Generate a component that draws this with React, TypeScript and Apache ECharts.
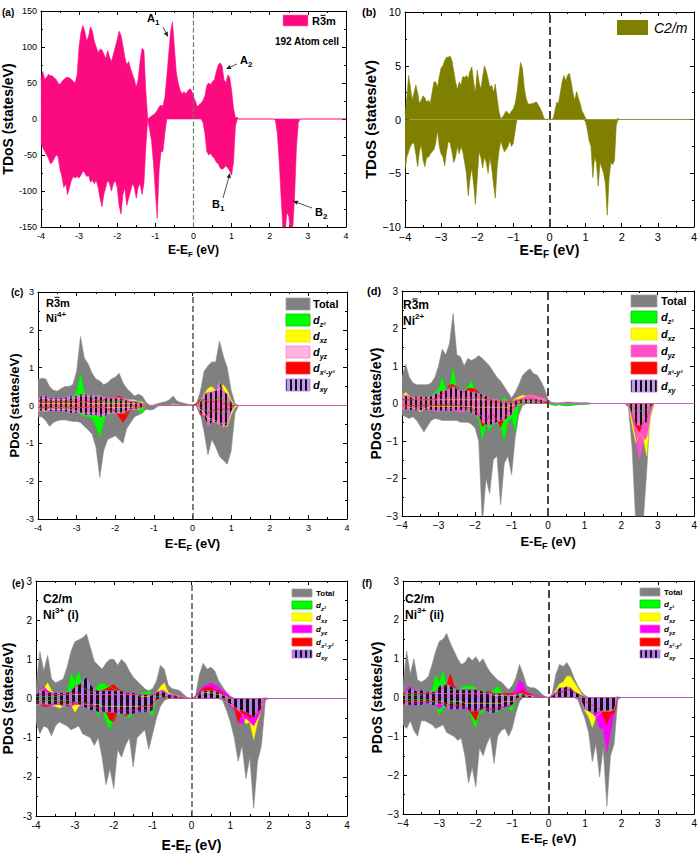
import React, { useEffect, useRef } from 'react';
import * as echarts from 'echarts';

const FONT = "'Liberation Sans', Arial, Helvetica, sans-serif";

// ---------------- DATA ----------------
const E_MIN = -4;
const E_MAX = 4;
const STEP_FINE = 0.05;
const STEP = 0.1;

// (a) R-3m, 192 atom cell, TDoS (0.05 eV grid)
const aUpStart = -4;
const aUp = [
  55, 66, 55, 58, 62, 60, 60, 57, 55, 50,
  48, 52, 55, 57, 58, 57, 55, 52, 50, 62,
  100, 120, 130, 122, 108, 115, 128, 122, 108, 100,
  92, 97, 96, 90, 84, 95, 86, 80, 90, 100,
  110, 122, 116, 102, 86, 75, 80, 70, 62, 55,
  44, 55, 80, 98, 96, 40, 0, 2, 4, 6,
  8, 12, 17, 19, 18, 30, 58, 90, 121, 135,
  100, 65, 50, 40, 35, 38, 35, 39, 42, 40,
  31, 25, 17, 20, 22, 26, 32, 47, 50, 48,
  52, 55, 66, 75, 78, 74, 55, 50, 61, 58,
  40, 15, 2, 2, 0,
];
const aDn1Start = -4;
const aDn1 = [
  -32, -40, -45, -50, -55, -62, -60, -55, -50, -52,
  -70, -80, -95, -90, -105, -95, -85, -80, -82, -80,
  -82, -78, -72, -75, -80, -78, -88, -85, -90, -85,
  -95, -110, -122, -105, -95, -85, -90, -100, -90, -85,
  -95, -120, -132, -105, -95, -120, -110, -100, -90, -95,
  -110, -95, -90, -105, -90, -40, 0, -15, -30, -60,
  -100, -138, -70, -45, -45, -20, 0,
];
const aDn2Start = 0.2;
const aDn2 = [0, -5, -20, -45, -50, -48, -52, -55, -60, -62, -68, -70, -68, -65, -68, -72, -78, -60, -10, 0];
const aDn3Start = 2.1;
const aDn3 = [0, -2, -20, -60, -110, -155, -160, -130, -135, -160, -155, -110, -40, -5, 0];

// (b) C2/m TDoS (0.05 eV grid)
const bUp1Start = -4;
const bUp1 = [
  0.5, 2.0, 4.1, 3.0, 1.8, 2.5, 3.2, 2.5, 1.5, 1.8,
  2.2, 2.0, 1.6, 1.8, 1.5, 2.5, 3.5, 3.5, 3.0, 4.0,
  4.8, 5.0, 5.5, 5.8, 5.8, 5.9, 5.5, 4.5, 3.5, 2.8,
  3.5, 3.2, 4.0, 3.9, 4.1, 3.8, 4.5, 4.9, 3.5, 2.5,
  4.6, 3.5, 2.8, 4.0, 5.0, 4.5, 3.8, 3.0, 3.2, 2.5,
  3.3, 2.0, 0.8, 0.1, 0.2, 0.5, 0.8, 0.6, 0.5, 0.8,
  1.0, 1.5, 2.5, 4.0, 5.3, 4.8, 3.0, 2.0, 1.5, 1.4,
  1.5, 1.5, 1.6, 1.6, 1.3, 1.0, 0.6, 0.1, 0,
];
const bUp2Start = 0.05;
const bUp2 = [0, 0.1, 0.8, 1.6, 1.5, 2.5, 3.5, 4.1, 3.6, 4.1, 4.3, 3.5, 2.5, 1.8, 2.6, 2.0, 1.5, 0.8, 0.5, 0.1, 0];
const bUp3Start = 1.85;
const bUp3 = [0, 0.1, 0];
const bDn1Start = -4;
const bDn1 = [
  -4.7, -3.5, -3.0, -2.5, -2.2, -2.2, -3.2, -4.4, -3.0, -2.3,
  -3.8, -4.4, -3.5, -3.5, -3.2, -3.0, -2.8, -2.2, -1.0, -2.5,
  -3.2, -3.5, -4.3, -3.0, -2.0, -2.2, -3.0, -4.0, -3.5, -2.5,
  -3.2, -2.5, -3.0, -4.0, -5.0, -7.1, -5.5, -4.5, -6.0, -7.9,
  -5.5, -3.0, -3.5, -4.5, -3.5, -4.0, -5.0, -3.5, -4.5, -6.0,
  -7.3, -4.5, -3.0, -2.0, -2.5, -3.0, -2.8, -2.5, -2.0, -2.5,
  -2.2, -1.0, 0,
];
const bDn2Start = 0.95;
const bDn2 = [0, -0.2, -1.0, -2.0, -2.5, -5.4, -3.5, -4.0, -6.2, -4.0, -4.5, -5.0, -6.0, -8.9, -5.5, -4.0, -4.2, -3.8, -0.5, 0];

// PDoS panels: 0.1 eV grid from -4. Order: Total, dz2, dxz, dyz, dx2-y2, dxy
// (c) R-3m Ni4+
const cTotUp = [0.68, 0.72, 0.7, 0.5, 0.4, 0.38, 0.45, 0.5, 0.5, 0.55, 0.9, 1.82, 1.25, 1.1, 0.85, 0.7, 0.65, 0.55, 0.6, 0.7, 0.75, 0.85, 0.6, 0.45, 0.35, 0.25, 0.3, 0.25, 0.08, 0, 0.02, 0.05, 0.08, 0.1, 0.15, 0.25, 0.12, 0.08, 0.05, 0.03, 0.02, 0.05, 0.35, 0.9, 1.05, 1.15, 1.15, 1.7, 1.3, 1.0, 0.4, 0.05, 0];
const cTotDn = [-0.3, -0.3, -0.4, -0.55, -0.45, -0.4, -0.38, -0.38, -0.4, -0.42, -0.42, -0.45, -0.55, -0.65, -0.75, -1.1, -1.9, -1.2, -0.9, -0.85, -0.8, -0.9, -1.0, -0.6, -0.45, -0.3, -0.25, -0.2, -0.1, -0.12, -0.1, -0.02, 0, 0, 0, 0, 0, 0, 0, 0, 0, 0, -0.2, -0.7, -1.3, -0.9, -1.1, -1.35, -1.45, -1.55, -1.2, -0.2, 0];
const cZ2Up = [0.1, 0.1, 0.1, 0.1, 0.1, 0.1, 0.1, 0.1, 0.12, 0.15, 0.4, 0.85, 0.35, 0.25, 0.2, 0.15, 0.12, 0.1, 0.1, 0.1, 0.1, 0.12, 0.15, 0.1, 0.1, 0.08, 0.15, 0.12, 0.02, 0, 0, 0, 0, 0.01, 0.02, 0.05, 0.02, 0.01, 0, 0, 0, 0, 0.05, 0.1, 0.15, 0.15, 0.15, 0.2, 0.15, 0.1, 0.05, 0, 0];
const cZ2Dn = [-0.05, -0.05, -0.05, -0.05, -0.05, -0.05, -0.05, -0.08, -0.1, -0.1, -0.15, -0.25, -0.3, -0.3, -0.35, -0.55, -0.85, -0.45, -0.2, -0.15, -0.1, -0.15, -0.2, -0.25, -0.1, -0.05, -0.15, -0.2, 0, 0, 0, 0, 0, 0, 0, 0, 0, 0, 0, 0, 0, 0, -0.05, -0.1, -0.15, -0.15, -0.15, -0.2, -0.2, -0.15, -0.05, 0, 0];
const cXzUp = [0.05, 0.05, 0.05, 0.05, 0.05, 0.05, 0.05, 0.05, 0.05, 0.05, 0.05, 0.1, 0.1, 0.05, 0.05, 0.05, 0.05, 0.05, 0.05, 0.05, 0.05, 0.05, 0.05, 0.05, 0.05, 0.05, 0.05, 0.05, 0, 0, 0, 0, 0, 0, 0, 0.05, 0.02, 0, 0, 0, 0, 0, 0.1, 0.3, 0.45, 0.5, 0.4, 0.45, 0.55, 0.4, 0.15, 0, 0];
const cXzDn = [-0.05, -0.1, -0.15, -0.1, -0.05, -0.05, -0.05, -0.05, -0.05, -0.05, -0.05, -0.05, -0.05, -0.05, -0.05, -0.05, -0.05, -0.05, -0.05, -0.05, -0.05, -0.05, -0.05, -0.05, -0.05, -0.05, -0.05, -0.05, 0, 0, 0, 0, 0, 0, 0, 0, 0, 0, 0, 0, 0, 0, -0.1, -0.2, -0.35, -0.4, -0.45, -0.5, -0.55, -0.55, -0.25, -0.05, 0];
const cYzUp = [0.15, 0.2, 0.2, 0.15, 0.15, 0.15, 0.15, 0.15, 0.2, 0.2, 0.2, 0.25, 0.25, 0.25, 0.25, 0.25, 0.25, 0.2, 0.2, 0.2, 0.2, 0.2, 0.2, 0.15, 0.15, 0.15, 0.1, 0.1, 0, 0, 0, 0, 0, 0, 0, 0.03, 0.02, 0, 0, 0, 0, 0, 0.1, 0.25, 0.35, 0.4, 0.4, 0.45, 0.4, 0.3, 0.1, 0, 0];
const cYzDn = [-0.15, -0.15, -0.15, -0.1, -0.1, -0.1, -0.1, -0.1, -0.1, -0.15, -0.15, -0.2, -0.2, -0.2, -0.2, -0.2, -0.25, -0.25, -0.2, -0.2, -0.2, -0.2, -0.2, -0.15, -0.1, -0.1, -0.1, -0.05, 0, 0, 0, 0, 0, 0, 0, 0, 0, 0, 0, 0, 0, 0, -0.1, -0.2, -0.35, -0.35, -0.4, -0.45, -0.5, -0.45, -0.2, 0, 0];
const cX2Up = [0.15, 0.1, 0.1, 0.1, 0.1, 0.1, 0.1, 0.1, 0.1, 0.1, 0.1, 0.1, 0.1, 0.1, 0.1, 0.1, 0.1, 0.15, 0.2, 0.2, 0.2, 0.25, 0.2, 0.1, 0.1, 0.1, 0.05, 0.05, 0, 0, 0, 0, 0, 0, 0, 0, 0, 0, 0, 0, 0, 0.05, 0.15, 0.15, 0.1, 0.1, 0.1, 0.1, 0.05, 0.05, 0, 0, 0];
const cX2Dn = [-0.05, -0.05, -0.05, -0.05, -0.05, -0.05, -0.05, -0.05, -0.05, -0.05, -0.05, -0.05, -0.05, -0.05, -0.05, -0.05, -0.05, -0.05, -0.1, -0.1, -0.15, -0.3, -0.45, -0.3, -0.1, -0.05, -0.05, -0.05, 0, 0, 0, 0, 0, 0, 0, 0, 0, 0, 0, 0, 0, 0, -0.25, -0.3, -0.2, -0.15, -0.1, -0.1, -0.1, -0.1, -0.05, 0, 0];
const cXyUp = [0.2, 0.25, 0.25, 0.2, 0.2, 0.2, 0.2, 0.2, 0.25, 0.25, 0.25, 0.3, 0.3, 0.3, 0.28, 0.25, 0.25, 0.22, 0.22, 0.2, 0.2, 0.2, 0.15, 0.15, 0.1, 0.1, 0.1, 0.05, 0.02, 0, 0, 0, 0, 0, 0.02, 0.03, 0.02, 0.01, 0, 0, 0, 0, 0.1, 0.3, 0.35, 0.35, 0.4, 0.65, 0.4, 0.3, 0.1, 0, 0];
const cXyDn = [-0.15, -0.15, -0.15, -0.15, -0.15, -0.15, -0.15, -0.15, -0.2, -0.2, -0.2, -0.2, -0.25, -0.25, -0.25, -0.25, -0.3, -0.3, -0.25, -0.2, -0.2, -0.2, -0.2, -0.15, -0.1, -0.1, -0.1, -0.05, 0, 0, 0, 0, 0, 0, 0, 0, 0, 0, 0, 0, 0, 0, -0.2, -0.3, -0.55, -0.45, -0.45, -0.5, -0.6, -0.5, -0.15, 0, 0];

// (d) R-3m Ni2+ (main range from -4, extra range from 2.1)
const dTotUp = [0.7, 1.05, 0.7, 0.55, 0.5, 0.5, 0.5, 0.5, 0.55, 0.7, 1.0, 1.45, 1.3, 1.6, 2.4, 1.3, 1.25, 1.0, 1.2, 1.15, 1.2, 1.28, 1.2, 1.1, 1.0, 0.85, 0.7, 0.6, 0.45, 0.3, 0.15, 0.3, 0.5, 0.75, 0.85, 0.93, 0.8, 0.76, 0.6, 0.4, 0.1, 0.03, 0.02, 0.02, 0.03, 0.04, 0.04, 0.03, 0.03, 0.02, 0.03, 0.02, 0];
const dTotDn = [-0.3, -0.35, -0.4, -0.35, -0.45, -0.6, -0.76, -0.6, -0.45, -0.4, -0.42, -0.45, -0.45, -0.45, -0.45, -0.45, -0.5, -0.5, -0.5, -0.55, -0.65, -1.0, -3.2, -2.0, -2.4, -1.5, -1.4, -2.7, -1.6, -1.4, -1.9, -0.9, -0.3, -0.05, 0, 0, 0, 0, 0, 0, 0, -0.03, -0.05, -0.03, -0.05, -0.06, -0.05, -0.04, -0.03, -0.03, -0.02, -0.02, 0];
const dZ2Up = [0.1, 0.1, 0.1, 0.1, 0.1, 0.1, 0.1, 0.15, 0.2, 0.3, 0.4, 0.7, 0.4, 0.4, 0.98, 0.4, 0.35, 0.35, 0.45, 0.62, 0.3, 0.2, 0.15, 0.1, 0.1, 0.1, 0.1, 0.05, 0.18, 0.05, 0.02, 0.05, 0.05, 0.05, 0.05, 0.05, 0.05, 0.05, 0.05, 0.05, 0.02, 0, 0, 0, 0, 0, 0, 0, 0, 0, 0, 0, 0];
const dZ2Dn = [-0.05, -0.05, -0.05, -0.05, -0.05, -0.05, -0.05, -0.05, -0.05, -0.05, -0.05, -0.05, -0.05, -0.05, -0.05, -0.05, -0.05, -0.1, -0.15, -0.2, -0.3, -0.45, -0.98, -0.55, -0.75, -0.5, -0.55, -0.6, -1.0, -0.5, -0.4, -0.75, -0.1, -0.02, 0, 0, 0, 0, 0, 0, 0, -0.03, -0.05, -0.03, -0.05, -0.06, -0.05, -0.04, -0.03, -0.02, -0.02, -0.01, 0];
const dXzUp = [0.2, 0.3, 0.2, 0.15, 0.12, 0.1, 0.1, 0.1, 0.1, 0.1, 0.1, 0.1, 0.1, 0.1, 0.1, 0.1, 0.1, 0.1, 0.1, 0.1, 0.1, 0.1, 0.1, 0.1, 0.1, 0.1, 0.1, 0.05, 0.05, 0.05, 0.05, 0.13, 0.18, 0.22, 0.2, 0.22, 0.2, 0.15, 0.12, 0.1, 0.05, 0, 0, 0, 0, 0, 0, 0, 0, 0, 0, 0, 0];
const dXzDn = [-0.05, -0.05, -0.1, -0.12, -0.15, -0.22, -0.15, -0.1, -0.08, -0.08, -0.08, -0.08, -0.08, -0.08, -0.08, -0.08, -0.08, -0.08, -0.08, -0.08, -0.1, -0.1, -0.1, -0.1, -0.1, -0.1, -0.1, -0.1, -0.1, -0.1, -0.05, -0.05, -0.02, 0, 0, 0, 0, 0, 0, 0, 0, 0, 0, 0, 0, 0, 0, 0, 0, 0, 0, 0, 0];
const dYzUp = [0.22, 0.22, 0.2, 0.15, 0.12, 0.1, 0.1, 0.1, 0.1, 0.1, 0.1, 0.12, 0.15, 0.15, 0.15, 0.15, 0.15, 0.15, 0.15, 0.15, 0.15, 0.15, 0.15, 0.1, 0.1, 0.1, 0.1, 0.05, 0.05, 0.05, 0.05, 0.1, 0.12, 0.15, 0.2, 0.22, 0.22, 0.2, 0.18, 0.15, 0.05, 0, 0, 0, 0, 0, 0, 0, 0, 0, 0, 0, 0];
const dYzDn = [-0.1, -0.1, -0.1, -0.1, -0.1, -0.1, -0.12, -0.15, -0.18, -0.2, -0.22, -0.2, -0.15, -0.12, -0.15, -0.2, -0.25, -0.2, -0.15, -0.12, -0.2, -0.3, -0.35, -0.4, -0.45, -0.45, -0.4, -0.4, -0.35, -0.3, -0.25, -0.1, -0.02, 0, 0, 0, 0, 0, 0, 0, 0, 0, 0, 0, 0, 0, 0, 0, 0, 0, 0, 0, 0];
const dX2Up = [0.1, 0.1, 0.1, 0.1, 0.1, 0.1, 0.1, 0.1, 0.1, 0.1, 0.2, 0.25, 0.3, 0.5, 0.5, 0.45, 0.35, 0.3, 0.4, 0.4, 0.38, 0.3, 0.2, 0.1, 0.1, 0.05, 0.05, 0.05, 0.05, 0.05, 0.05, 0.05, 0.08, 0.1, 0.12, 0.12, 0.1, 0.08, 0.05, 0.03, 0.02, 0, 0, 0, 0, 0, 0, 0, 0, 0, 0, 0, 0];
const dX2Dn = [-0.05, -0.05, -0.05, -0.05, -0.05, -0.05, -0.05, -0.05, -0.05, -0.05, -0.05, -0.05, -0.05, -0.05, -0.05, -0.05, -0.05, -0.1, -0.1, -0.15, -0.2, -0.3, -0.62, -0.5, -0.3, -0.3, -0.45, -0.63, -0.4, -0.2, -0.15, -0.05, 0, 0, 0, 0, 0, 0, 0, 0, 0, 0, 0, 0, 0, 0, 0, 0, 0, 0, 0, 0, 0];
const dXyUp = [0.18, 0.2, 0.18, 0.18, 0.18, 0.18, 0.18, 0.18, 0.2, 0.25, 0.3, 0.35, 0.35, 0.4, 0.45, 0.4, 0.35, 0.35, 0.35, 0.3, 0.3, 0.27, 0.25, 0.2, 0.15, 0.12, 0.1, 0.09, 0.05, 0.02, 0.02, 0.08, 0.1, 0.12, 0.12, 0.12, 0.12, 0.12, 0.1, 0.08, 0.03, 0.01, 0, 0, 0, 0, 0, 0, 0, 0, 0, 0, 0];
const dXyDn = [-0.15, -0.15, -0.18, -0.18, -0.18, -0.18, -0.18, -0.18, -0.18, -0.18, -0.2, -0.2, -0.2, -0.2, -0.2, -0.18, -0.18, -0.18, -0.2, -0.25, -0.3, -0.36, -0.5, -0.58, -0.58, -0.55, -0.5, -0.45, -0.45, -0.35, -0.3, -0.1, -0.02, 0, 0, 0, 0, 0, 0, 0, 0, 0, 0, 0, 0, 0, 0, 0, 0, 0, 0, 0, 0];
const dExtraStart = 2.1;
const dTotDnB = [0, -0.1, -1.2, -3.2, -3.2, -3.2, -1.8, -0.1, 0];
const dZ2DnB = [0, 0, -0.1, -0.2, -0.2, -0.2, -0.15, -0.05, 0];
const dXzDnB = [0, 0, -0.6, -1.05, -0.8, -0.9, -1.4, -0.4, 0];
const dYzDnB = [0, 0, -0.4, -0.9, -1.5, -1.0, -0.9, -0.3, 0];
const dX2DnB = [0, 0, -0.3, -0.6, -0.75, -0.5, -0.4, -0.1, 0];
const dXyDnB = [0, 0, -0.3, -0.55, -0.6, -0.55, -0.5, -0.1, 0];

// (e) C2/m Ni3+ (i)
const eTotUp = [0.3, 1.2, 0.7, 1.1, 0.5, 0.4, 0.45, 0.5, 0.8, 1.2, 1.45, 1.5, 1.55, 1.65, 1.3, 0.95, 0.85, 0.75, 0.9, 1.0, 1.0, 0.85, 1.0, 0.9, 0.7, 0.55, 0.45, 0.35, 0.25, 0.2, 0.25, 0.45, 0.85, 0.75, 0.35, 0.25, 0.23, 0.2, 0.1, 0.02, 0, 0.05, 0.6, 0.9, 0.75, 0.8, 0.7, 0.45, 0.3, 0.15, 0.05, 0, 0, 0, 0, 0, 0, 0, 0, 0.02, 0];
const eTotDn = [-0.6, -0.9, -0.7, -0.75, -0.95, -0.7, -0.6, -0.65, -0.7, -0.8, -0.75, -0.7, -0.9, -0.95, -1.0, -1.2, -1.0, -1.5, -2.2, -1.8, -2.3, -1.3, -1.5, -1.2, -1.0, -1.75, -1.0, -0.9, -0.8, -1.3, -0.9, -0.5, -0.2, -0.05, 0, 0, 0, 0, 0, 0, 0, 0, 0, 0, 0, 0, 0, 0, -0.05, -0.3, -0.6, -1.0, -1.6, -1.2, -2.05, -1.5, -2.8, -1.6, -1.2, -0.05, 0];
const eZ2Up = [0.05, 0.05, 0.05, 0.05, 0.05, 0.05, 0.05, 0.1, 0.15, 0.65, 0.45, 0.7, 0.3, 0.2, 0.15, 0.2, 0.35, 0.4, 0.35, 0.3, 0.25, 0.2, 0.2, 0.15, 0.1, 0.1, 0.1, 0.15, 0.15, 0.2, 0.1, 0.05, 0.05, 0.02, 0, 0, 0, 0, 0, 0, 0, 0, 0, 0, 0, 0, 0, 0, 0, 0, 0, 0, 0, 0, 0, 0, 0, 0, 0, 0, 0];
const eZ2Dn = [-0.05, -0.05, -0.05, -0.05, -0.05, -0.05, -0.05, -0.05, -0.05, -0.05, -0.1, -0.1, -0.1, -0.15, -0.2, -0.2, -0.45, -0.3, -0.6, -0.8, -0.5, -0.35, -0.4, -0.45, -0.5, -0.4, -0.35, -0.3, -0.3, -0.35, -0.45, -0.1, 0, 0, 0, 0, 0, 0, 0, 0, 0, 0, 0, 0, 0, 0, 0, 0, 0, 0, 0, 0, 0, 0, 0, 0, 0, 0, 0, 0, 0];
const eXzUp = [0.1, 0.2, 0.25, 0.4, 0.2, 0.1, 0.1, 0.1, 0.1, 0.1, 0.1, 0.1, 0.1, 0.1, 0.1, 0.1, 0.1, 0.1, 0.1, 0.1, 0.1, 0.1, 0.1, 0.1, 0.1, 0.1, 0.1, 0.05, 0.05, 0.05, 0.1, 0.15, 0.3, 0.4, 0.15, 0.1, 0.08, 0.05, 0.03, 0.01, 0, 0.02, 0.1, 0.15, 0.15, 0.15, 0.12, 0.1, 0.08, 0.05, 0, 0, 0, 0, 0, 0, 0, 0, 0, 0, 0];
const eXzDn = [-0.15, -0.15, -0.1, -0.15, -0.2, -0.2, -0.25, -0.2, -0.15, -0.15, -0.35, -0.2, -0.15, -0.15, -0.15, -0.15, -0.15, -0.2, -0.2, -0.2, -0.2, -0.2, -0.2, -0.2, -0.2, -0.2, -0.2, -0.2, -0.2, -0.2, -0.2, -0.05, 0, 0, 0, 0, 0, 0, 0, 0, 0, 0, 0, 0, 0, 0, 0, 0, 0, -0.1, -0.15, -0.2, -0.3, -0.4, -0.65, -0.6, -1.05, -0.6, -0.3, 0, 0];
const eYzUp = [0.1, 0.2, 0.3, 0.2, 0.15, 0.1, 0.1, 0.1, 0.1, 0.1, 0.15, 0.15, 0.1, 0.1, 0.1, 0.1, 0.1, 0.1, 0.1, 0.1, 0.1, 0.1, 0.1, 0.1, 0.1, 0.1, 0.1, 0.1, 0.1, 0.1, 0.1, 0.15, 0.2, 0.2, 0.1, 0.08, 0.05, 0.03, 0.02, 0.01, 0, 0.05, 0.2, 0.3, 0.35, 0.4, 0.35, 0.3, 0.2, 0.15, 0.05, 0, 0, 0, 0, 0, 0, 0, 0, 0, 0];
const eYzDn = [-0.1, -0.1, -0.15, -0.2, -0.2, -0.15, -0.15, -0.15, -0.2, -0.2, -0.15, -0.15, -0.15, -0.15, -0.2, -0.2, -0.25, -0.25, -0.3, -0.3, -0.3, -0.3, -0.3, -0.3, -0.3, -0.3, -0.3, -0.3, -0.3, -0.3, -0.25, -0.05, 0, 0, 0, 0, 0, 0, 0, 0, 0, 0, 0, 0, 0, 0, 0, 0, 0, -0.1, -0.2, -0.3, -0.6, -0.65, -0.5, -0.6, -0.7, -0.5, -0.3, 0, 0];
const eX2Up = [0.1, 0.1, 0.1, 0.1, 0.1, 0.1, 0.1, 0.1, 0.1, 0.15, 0.3, 0.36, 0.3, 0.25, 0.2, 0.2, 0.2, 0.2, 0.25, 0.3, 0.36, 0.25, 0.2, 0.15, 0.15, 0.1, 0.1, 0.1, 0.1, 0.1, 0.1, 0.1, 0.1, 0.05, 0.05, 0.05, 0.02, 0.02, 0.01, 0, 0, 0.05, 0.15, 0.25, 0.28, 0.3, 0.22, 0.2, 0.12, 0.05, 0, 0, 0, 0, 0, 0, 0, 0, 0, 0, 0];
const eX2Dn = [-0.1, -0.15, -0.2, -0.2, -0.15, -0.1, -0.1, -0.1, -0.1, -0.1, -0.1, -0.1, -0.1, -0.1, -0.15, -0.2, -0.25, -0.3, -0.35, -0.55, -0.6, -0.3, -0.35, -0.45, -0.4, -0.3, -0.25, -0.2, -0.2, -0.2, -0.15, 0, 0, 0, 0, 0, 0, 0, 0, 0, 0, 0, 0, 0, 0, 0, 0, 0, 0, -0.05, -0.1, -0.2, -0.6, -0.35, -0.4, -0.5, -0.45, -0.3, -0.1, 0, 0];
const eXyUp = [0.1, 0.2, 0.2, 0.15, 0.15, 0.15, 0.15, 0.15, 0.15, 0.2, 0.3, 0.35, 0.45, 0.55, 0.35, 0.25, 0.2, 0.2, 0.2, 0.2, 0.2, 0.2, 0.2, 0.15, 0.15, 0.15, 0.1, 0.1, 0.1, 0.1, 0.1, 0.15, 0.2, 0.15, 0.1, 0.1, 0.08, 0.05, 0.03, 0.01, 0, 0.02, 0.15, 0.2, 0.2, 0.2, 0.2, 0.15, 0.1, 0.05, 0, 0, 0, 0, 0, 0, 0, 0, 0, 0, 0];
const eXyDn = [-0.15, -0.15, -0.15, -0.15, -0.15, -0.15, -0.15, -0.2, -0.2, -0.15, -0.1, -0.15, -0.2, -0.25, -0.3, -0.3, -0.35, -0.35, -0.35, -0.35, -0.35, -0.4, -0.4, -0.4, -0.4, -0.4, -0.35, -0.35, -0.35, -0.35, -0.3, -0.05, 0, 0, 0, 0, 0, 0, 0, 0, 0, 0, 0, 0, 0, 0, 0, 0, 0, -0.1, -0.15, -0.25, -0.3, -0.3, -0.35, -0.4, -0.5, -0.35, -0.25, 0, 0];

// (f) C2/m Ni3+ (ii)
const fTotUp = [0.3, 1.2, 0.6, 1.0, 0.45, 0.4, 0.45, 0.55, 0.85, 1.2, 1.45, 1.5, 1.65, 1.4, 1.2, 1.0, 0.85, 0.9, 1.05, 0.95, 1.05, 0.9, 1.0, 0.8, 0.65, 0.55, 0.45, 0.4, 0.3, 0.2, 0.3, 0.5, 0.85, 0.6, 0.3, 0.25, 0.25, 0.2, 0.1, 0.02, 0, 0.1, 0.6, 0.85, 0.8, 0.9, 0.75, 0.5, 0.3, 0.15, 0.05, 0, 0, 0, 0, 0, 0, 0, 0, 0.02, 0];
const fTotDn = [-0.7, -0.8, -0.6, -0.85, -1.0, -0.6, -0.6, -0.65, -0.7, -0.8, -0.75, -0.7, -0.9, -0.95, -1.0, -1.1, -1.05, -1.5, -2.2, -1.8, -2.3, -1.3, -1.5, -1.2, -1.0, -1.7, -1.0, -0.85, -0.8, -1.0, -0.8, -0.4, -0.1, 0, 0, 0, 0, 0, 0, 0, 0, 0, 0, 0, 0, 0, 0, 0, -0.05, -0.3, -0.55, -0.9, -1.65, -1.2, -2.05, -1.3, -2.8, -1.5, -1.2, -0.05, 0];
const fZ2Up = [0.05, 0.05, 0.05, 0.05, 0.05, 0.05, 0.1, 0.15, 0.2, 0.6, 0.4, 0.7, 0.3, 0.2, 0.2, 0.2, 0.25, 0.3, 0.3, 0.3, 0.25, 0.2, 0.2, 0.15, 0.15, 0.2, 0.3, 0.15, 0.1, 0.05, 0.05, 0.05, 0.05, 0.05, 0.02, 0, 0, 0, 0, 0, 0, 0, 0, 0, 0, 0, 0, 0, 0, 0, 0, 0, 0, 0, 0, 0, 0, 0, 0, 0, 0];
const fZ2Dn = [-0.05, -0.05, -0.05, -0.05, -0.05, -0.05, -0.05, -0.05, -0.1, -0.2, -0.45, -0.3, -0.2, -0.15, -0.15, -0.2, -0.2, -0.25, -0.3, -0.6, -0.8, -0.4, -0.4, -0.3, -0.3, -0.35, -0.4, -0.3, -0.25, -0.3, -0.35, -0.1, 0, 0, 0, 0, 0, 0, 0, 0, 0, 0, 0, 0, 0, 0, 0, 0, 0, 0, 0, 0, 0, 0, 0, 0, 0, 0, 0, 0, 0];
const fXzUp = [0.05, 0.1, 0.1, 0.1, 0.1, 0.1, 0.1, 0.1, 0.1, 0.1, 0.1, 0.1, 0.1, 0.1, 0.1, 0.1, 0.1, 0.1, 0.1, 0.1, 0.1, 0.1, 0.1, 0.1, 0.1, 0.05, 0.05, 0.05, 0.05, 0.05, 0.05, 0.05, 0.1, 0.1, 0.05, 0.05, 0.03, 0.02, 0.01, 0, 0, 0.05, 0.2, 0.35, 0.4, 0.55, 0.55, 0.4, 0.25, 0.1, 0, 0, 0, 0, 0, 0, 0, 0, 0, 0, 0];
const fXzDn = [-0.2, -0.15, -0.1, -0.1, -0.1, -0.1, -0.1, -0.1, -0.1, -0.1, -0.1, -0.1, -0.2, -0.1, -0.1, -0.1, -0.1, -0.15, -0.15, -0.15, -0.15, -0.15, -0.15, -0.15, -0.15, -0.15, -0.15, -0.15, -0.1, -0.1, -0.1, -0.05, 0, 0, 0, 0, 0, 0, 0, 0, 0, 0, 0, 0, 0, 0, 0, 0, 0, -0.1, -0.35, -0.5, -0.77, -0.5, -0.4, -0.35, -0.35, -0.35, -0.3, 0, 0];
const fYzUp = [0.1, 0.2, 0.3, 0.2, 0.15, 0.1, 0.1, 0.1, 0.1, 0.1, 0.1, 0.1, 0.1, 0.1, 0.1, 0.1, 0.1, 0.1, 0.1, 0.1, 0.1, 0.1, 0.1, 0.1, 0.1, 0.1, 0.1, 0.1, 0.05, 0.05, 0.1, 0.2, 0.45, 0.35, 0.15, 0.1, 0.05, 0.03, 0.02, 0.01, 0, 0.03, 0.1, 0.15, 0.15, 0.2, 0.2, 0.15, 0.1, 0.05, 0, 0, 0, 0, 0, 0, 0, 0, 0, 0, 0];
const fYzDn = [-0.15, -0.15, -0.2, -0.15, -0.15, -0.15, -0.15, -0.15, -0.2, -0.2, -0.3, -0.2, -0.2, -0.25, -0.25, -0.25, -0.25, -0.3, -0.3, -0.3, -0.3, -0.3, -0.3, -0.3, -0.3, -0.3, -0.25, -0.25, -0.25, -0.25, -0.2, -0.05, 0, 0, 0, 0, 0, 0, 0, 0, 0, 0, 0, 0, 0, 0, 0, 0, 0, -0.1, -0.3, -0.35, -0.4, -0.5, -0.8, -0.8, -1.4, -0.9, -0.4, 0, 0];
const fX2Up = [0.1, 0.1, 0.1, 0.1, 0.1, 0.1, 0.1, 0.1, 0.1, 0.15, 0.2, 0.25, 0.3, 0.6, 0.3, 0.2, 0.2, 0.2, 0.2, 0.2, 0.2, 0.2, 0.15, 0.15, 0.15, 0.1, 0.1, 0.1, 0.1, 0.1, 0.1, 0.1, 0.15, 0.2, 0.1, 0.08, 0.05, 0.03, 0.02, 0.01, 0, 0.03, 0.1, 0.15, 0.15, 0.2, 0.2, 0.15, 0.1, 0.05, 0, 0, 0, 0, 0, 0, 0, 0, 0, 0, 0];
const fX2Dn = [-0.1, -0.1, -0.1, -0.1, -0.1, -0.1, -0.1, -0.1, -0.1, -0.1, -0.1, -0.15, -0.15, -0.2, -0.2, -0.2, -0.2, -0.25, -0.3, -0.45, -0.6, -0.3, -0.25, -0.25, -0.3, -0.3, -0.3, -0.25, -0.25, -0.2, -0.2, -0.05, 0, 0, 0, 0, 0, 0, 0, 0, 0, 0, 0, 0, 0, 0, 0, 0, 0, -0.05, -0.1, -0.15, -0.2, -0.25, -0.3, -0.45, -0.7, -0.45, -0.4, 0, 0];
const fXyUp = [0.1, 0.15, 0.25, 0.2, 0.15, 0.2, 0.15, 0.15, 0.15, 0.15, 0.3, 0.3, 0.35, 0.3, 0.25, 0.2, 0.2, 0.2, 0.2, 0.2, 0.2, 0.2, 0.15, 0.15, 0.1, 0.1, 0.1, 0.1, 0.05, 0.05, 0.05, 0.1, 0.1, 0.1, 0.05, 0.05, 0.05, 0.03, 0.02, 0.01, 0, 0.05, 0.15, 0.25, 0.25, 0.28, 0.25, 0.15, 0.1, 0.05, 0, 0, 0, 0, 0, 0, 0, 0, 0, 0, 0];
const fXyDn = [-0.2, -0.2, -0.2, -0.2, -0.2, -0.2, -0.15, -0.15, -0.2, -0.2, -0.15, -0.2, -0.25, -0.3, -0.3, -0.3, -0.3, -0.3, -0.35, -0.35, -0.35, -0.35, -0.3, -0.35, -0.4, -0.4, -0.35, -0.3, -0.25, -0.2, -0.2, -0.05, 0, 0, 0, 0, 0, 0, 0, 0, 0, 0, 0, 0, 0, 0, 0, 0, 0, -0.1, -0.3, -0.35, -0.4, -0.4, -0.35, -0.35, -0.35, -0.35, -0.3, 0, 0];

const ORBITAL_NAMES = ['Total', 'd_z2', 'd_xz', 'd_yz', 'd_x2-y2', 'd_xy'];
const ORBITAL_LABELS = ['{t|Total}', '{d|d}{s|z²}', '{d|d}{s|xz}', '{d|d}{s|yz}', '{d|d}{s|x²-y²}', '{d|d}{s|xy}'];

// ---------------- helpers ----------------
function seg(start: number, step: number, vals: number[]) {
  return vals.map((v, i) => [Math.round((start + i * step) * 1000) / 1000, v]);
}
function curve(...segs: number[][][]) {
  const out: number[][] = [];
  segs.forEach((s) => out.push(...s));
  if (out[out.length - 1][0] < E_MAX) out.push([E_MAX, 0]);
  return out;
}

function stripePattern(bg: string, period: number, dark: number) {
  const c = document.createElement('canvas');
  c.width = period;
  c.height = 10;
  const ctx = c.getContext('2d')!;
  ctx.fillStyle = bg;
  ctx.fillRect(0, 0, period, 10);
  ctx.fillStyle = '#111';
  ctx.fillRect(0, 0, dark, 10);
  return { image: c, repeat: 'repeat', imageWidth: period, imageHeight: 10 } as any;
}

function area(g: number, name: string, data: number[][], fill: any, stroke: string, lw = 0.6) {
  return {
    type: 'line', name, xAxisIndex: g * 2, yAxisIndex: g * 2, data,
    symbol: 'none', showSymbol: false, silent: true,
    lineStyle: { color: stroke, width: lw },
    itemStyle: { color: stroke },
    areaStyle: { color: fill, opacity: 1 },
    emphasis: { disabled: true },
  } as any;
}

function zeroLine(color: string, width: number) {
  return {
    silent: true, symbol: ['none', 'none'], label: { show: false },
    lineStyle: { type: 'dashed', color, width },
    data: [{ xAxis: 0 }],
  };
}

function arrow(x1: number, y1: number, x2: number, y2: number) {
  const ang = Math.atan2(y2 - y1, x2 - x1);
  const L = 5, W = 2.2;
  const bx = x2 - L * Math.cos(ang), by = y2 - L * Math.sin(ang);
  const px = -Math.sin(ang) * W, py = Math.cos(ang) * W;
  return [
    { type: 'line', silent: true, z: 100, shape: { x1, y1, x2: bx, y2: by }, style: { stroke: '#222', lineWidth: 0.8 } },
    { type: 'polygon', silent: true, z: 100, shape: { points: [[x2, y2], [bx + px, by + py], [bx - px, by - py]] }, style: { fill: '#222' } },
  ];
}

function rich(size: number) {
  const sub = Math.max(6, Math.round(size * 0.62));
  return {
    b: { fontSize: size, fontWeight: 'bold', fontFamily: FONT, lineHeight: size + 5, fill: '#000' },
    t: { fontSize: size, fontWeight: 'bold', fontFamily: FONT, lineHeight: size + 5, fill: '#000' },
    d: { fontSize: size, fontWeight: 'bold', fontStyle: 'italic', fontFamily: FONT, lineHeight: size + 5, fill: '#000' },
    s: { fontSize: sub, fontWeight: 'bold', fontStyle: 'italic', fontFamily: FONT, lineHeight: sub + 1, verticalAlign: 'bottom', fill: '#000' },
    n: { fontSize: sub + 1, fontWeight: 'bold', fontFamily: FONT, lineHeight: sub + 2, verticalAlign: 'bottom', fill: '#000' },
    p: { fontSize: sub + 1, fontWeight: 'bold', fontFamily: FONT, lineHeight: sub + 2, verticalAlign: 'top', fill: '#000' },
    c: { fontSize: size, fontStyle: 'italic', fontFamily: FONT, lineHeight: size + 4, fill: '#000' },
  };
}

function txt(x: number, y: number, text: string, size: number) {
  return { type: 'text', x, y, z: 100, silent: true, style: { text, rich: rich(size), align: 'left', verticalAlign: 'middle', fill: '#000' } };
}

// "R3m" space-group symbol with the bar drawn over the 3 (bold Liberation Sans metrics)
function spaceGroup(x: number, y: number, size: number) {
  const x1 = x + 0.722 * size + 0.6;
  const x2 = x + 1.278 * size - 0.6;
  const yb = y - 0.37 * size - 1.6;
  return [
    txt(x, y, '{b|R3m}', size),
    { type: 'line', z: 100, silent: true, shape: { x1, y1: yb, x2, y2: yb }, style: { stroke: '#000', lineWidth: 1 } },
  ];
}

// layout of the six panels
const PANELS = [
  { left: 38, top: 11, width: 308, height: 216, yMin: -150, yMax: 150, yInt: 50, fs: 9, uMinus: false, yName: 'TDoS (states/eV)', yGap: 24, xGap: 14, xFs: 12, yFs: 14 },
  { left: 405, top: 12, width: 290, height: 215, yMin: -10, yMax: 10, yInt: 5, fs: 11, uMinus: true, yName: 'TDoS (states/eV)', yGap: 14, xGap: 12, xFs: 14, yFs: 15 },
  { left: 38, top: 292, width: 309, height: 227, yMin: -3, yMax: 3, yInt: 1, fs: 9, uMinus: false, yName: 'PDoS (states/eV)', yGap: 17, xGap: 15, xFs: 13, yFs: 13 },
  { left: 402, top: 291, width: 293, height: 225, yMin: -3, yMax: 3, yInt: 1, fs: 10, uMinus: true, yName: 'PDoS (states/eV)', yGap: 17, xGap: 16, xFs: 13, yFs: 14 },
  { left: 36, top: 581, width: 311, height: 236, yMin: -3, yMax: 3, yInt: 1, fs: 10, uMinus: false, yName: 'PDoS (states/eV)', yGap: 21, xGap: 19, xFs: 14, yFs: 14 },
  { left: 403, top: 581, width: 292, height: 233, yMin: -3, yMax: 3, yInt: 1, fs: 10, uMinus: true, yName: 'PDoS (states/eV)', yGap: 18, xGap: 15, xFs: 13, yFs: 14 },
];

function buildOption() {
  const grid: any[] = [], xAxis: any[] = [], yAxis: any[] = [], series: any[] = [];

  PANELS.forEach((p, g) => {
    grid.push({ left: p.left, top: p.top, width: p.width, height: p.height });
    const fmt = (v: number) => (p.uMinus && v < 0 ? '\u2212' + Math.abs(v) : String(v));
    const common = {
      type: 'value', gridIndex: g, splitLine: { show: false },
      axisLine: { show: true, onZero: false, lineStyle: { color: '#000', width: 1 } },
      axisTick: { show: true, inside: true, length: 4, lineStyle: { color: '#000' } },
      minorTick: { show: true, splitNumber: 2, length: 2, lineStyle: { color: '#000' } },
    };
    const xs = rich(p.xFs);
    xAxis.push({
      ...common, position: 'bottom', min: E_MIN, max: E_MAX, interval: 1,
      axisLabel: { fontSize: p.fs, color: '#000', fontFamily: FONT, margin: 4, formatter: fmt },
      name: '{b|E-E}{n|F}{b| (eV)}', nameLocation: 'middle', nameGap: p.xGap,
      nameTextStyle: { rich: { b: xs.b, n: xs.n } },
    });
    xAxis.push({ ...common, position: 'top', min: E_MIN, max: E_MAX, interval: 1, axisLabel: { show: false } });
    yAxis.push({
      ...common, position: 'left', min: p.yMin, max: p.yMax, interval: p.yInt,
      axisLabel: { fontSize: p.fs, color: '#000', fontFamily: FONT, margin: 4, formatter: fmt },
      name: p.yName, nameLocation: 'middle', nameGap: p.yGap,
      nameTextStyle: { fontSize: p.yFs, fontWeight: 'bold', fontFamily: FONT, color: '#000' },
    });
    yAxis.push({ ...common, position: 'right', min: p.yMin, max: p.yMax, interval: p.yInt, axisLabel: { show: false } });
  });

  // (a)
  const PINK = '#fc0a80';
  series.push(area(0, 'R-3m up', curve(seg(aUpStart, STEP_FINE, aUp)), PINK, PINK));
  const aDown = area(0, 'R-3m down', curve(seg(aDn1Start, STEP_FINE, aDn1), seg(aDn2Start, STEP_FINE, aDn2), seg(aDn3Start, STEP_FINE, aDn3)), PINK, PINK);
  aDown.markLine = zeroLine('#777', 1.2);
  series.push(aDown);

  // (b)
  const OLIVE = '#808000';
  series.push(area(1, 'C2/m up', curve(seg(bUp1Start, STEP_FINE, bUp1), seg(bUp2Start, STEP_FINE, bUp2), seg(bUp3Start, STEP_FINE, bUp3)), OLIVE, OLIVE));
  const bDown = area(1, 'C2/m down', curve(seg(bDn1Start, STEP_FINE, bDn1), seg(bDn2Start, STEP_FINE, bDn2)), OLIVE, OLIVE);
  bDown.markLine = zeroLine('#444', 2);
  series.push(bDown);

  // PDoS panels
  const xyPink = stripePattern('#e46acb', 5, 2);
  const xyLav = stripePattern('#b67cf0', 6, 3);
  const pd = [
    { g: 2, up: [cTotUp, cZ2Up, cXzUp, cYzUp, cX2Up, cXyUp], dn: [cTotDn, cZ2Dn, cXzDn, cYzDn, cX2Dn, cXyDn], dnB: null as any, yz: '#ffb4e4', xy: xyPink, xyLine: '#c070d8', zl: ['#555', 1.5] },
    { g: 3, up: [dTotUp, dZ2Up, dXzUp, dYzUp, dX2Up, dXyUp], dn: [dTotDn, dZ2Dn, dXzDn, dYzDn, dX2Dn, dXyDn], dnB: [dTotDnB, dZ2DnB, dXzDnB, dYzDnB, dX2DnB, dXyDnB], yz: '#ff50c8', xy: xyPink, xyLine: '#c070d8', zl: ['#444', 2] },
    { g: 4, up: [eTotUp, eZ2Up, eXzUp, eYzUp, eX2Up, eXyUp], dn: [eTotDn, eZ2Dn, eXzDn, eYzDn, eX2Dn, eXyDn], dnB: null, yz: '#ff00ff', xy: xyLav, xyLine: '#a070e0', zl: ['#555', 1.5] },
    { g: 5, up: [fTotUp, fZ2Up, fXzUp, fYzUp, fX2Up, fXyUp], dn: [fTotDn, fZ2Dn, fXzDn, fYzDn, fX2Dn, fXyDn], dnB: null, yz: '#ff00ff', xy: xyLav, xyLine: '#a070e0', zl: ['#444', 2] },
  ];
  pd.forEach((P) => {
    const fills = ['#808080', '#00ff00', '#ffff00', P.yz, '#ff0000', P.xy];
    const lines = ['#8c8c8c', '#00e000', '#f2e600', P.yz, '#ff0000', P.xyLine];
    for (let k = 0; k < 6; k++) {
      series.push(area(P.g, ORBITAL_NAMES[k] + ' up', curve(seg(E_MIN, STEP, P.up[k])), fills[k], lines[k]));
      const dnSegs = [seg(E_MIN, STEP, P.dn[k])];
      if (P.dnB) dnSegs.push(seg(dExtraStart, STEP, P.dnB[k]));
      const s = area(P.g, ORBITAL_NAMES[k] + ' down', curve(...dnSegs), fills[k], lines[k]);
      if (k === 5) s.markLine = zeroLine(P.zl[0] as string, P.zl[1] as number);
      series.push(s);
    }
  });

  // ---------- graphic: labels, legends, annotations ----------
  const G: any[] = [];
  G.push(txt(2, 12, '{b|(a)}', 10));
  G.push({ type: 'rect', z: 100, silent: true, shape: { x: 283, y: 15, width: 25, height: 11 }, style: { fill: PINK, stroke: '#ff70b0', lineWidth: 0.6 } });
  G.push(...spaceGroup(312, 21, 11));
  G.push(txt(275, 41, '{b|192 Atom cell}', 10));
  G.push(txt(147, 18, '{b|A}{n|1}', 11));
  G.push(txt(240, 60, '{b|A}{n|2}', 11));
  G.push(txt(212, 204, '{b|B}{n|1}', 11));
  G.push(txt(315, 212, '{b|B}{n|2}', 11));
  G.push(...arrow(163, 27, 168, 37));
  G.push(...arrow(237, 64, 226, 69));
  G.push(...arrow(223, 198, 230, 173));
  G.push(...arrow(312, 208, 293, 201));

  G.push(txt(362, 12, '{b|(b)}', 11));
  G.push({ type: 'rect', z: 100, silent: true, shape: { x: 617, y: 20, width: 31, height: 15 }, style: { fill: OLIVE } });
  G.push(txt(654, 28, '{c|C2/m}', 14));

  G.push(txt(11, 292, '{b|(c)}', 10));
  G.push(...spaceGroup(46, 303, 11));
  G.push(txt(46, 318, '{b|Ni}{p|4+}', 11));
  G.push(txt(367, 291, '{b|(d)}', 11));
  G.push(...spaceGroup(403, 305, 12));
  G.push(txt(403, 321, '{b|Ni}{p|2+}', 12));
  G.push(txt(12, 583, '{b|(e)}', 10));
  G.push(txt(43, 599, '{b|C2/m}', 12));
  G.push(txt(43, 615, '{b|Ni}{p|3+}{b| (i)}', 12));
  G.push(txt(362, 583, '{b|(f)}', 10));
  G.push(txt(405, 599, '{b|C2/m}', 12));
  G.push(txt(405, 615, '{b|Ni}{p|3+}{b| (ii)}', 12));

  const legXyCD = stripePattern('#c49cf0', 5, 2);
  const legXyEF = stripePattern('#b67cf0', 5, 2);
  const LEG = [
    { x: 286, w: 24, h: 12, ys: [298, 314, 330, 346, 362, 379], tx: 313, fs: 11, yz: '#ffb4e4', xy: legXyCD },
    { x: 631, w: 26, h: 12, ys: [295, 311, 328, 345, 362, 380], tx: 661, fs: 11, yz: '#ff50c8', xy: legXyCD },
    { x: 292, w: 20, h: 8, ys: [589, 601, 613, 625, 638, 650], tx: 316, fs: 8, yz: '#ff00ff', xy: legXyEF },
    { x: 640, w: 20, h: 8, ys: [588, 600, 613, 625, 638, 650], tx: 664, fs: 8, yz: '#ff00ff', xy: legXyEF },
  ];
  LEG.forEach((L) => {
    const fills = ['#808080', '#00ff00', '#ffff00', L.yz, '#ff0000', L.xy];
    const strokes = ['#a0a0a0', '#00c000', '#f0e000', '#ff80c8', '#ff4040', '#b080e0'];
    for (let k = 0; k < 6; k++) {
      G.push({ type: 'rect', z: 100, silent: true, shape: { x: L.x, y: L.ys[k], width: L.w, height: L.h }, style: { fill: fills[k], stroke: strokes[k], lineWidth: 0.8 } });
      G.push(txt(L.tx, L.ys[k] + L.h / 2, ORBITAL_LABELS[k], L.fs));
    }
  });

  return {
    animation: false,
    backgroundColor: '#fff',
    textStyle: { fontFamily: FONT },
    grid, xAxis, yAxis, series,
    graphic: { elements: G },
  };
}

export default function App() {
  const ref = useRef<HTMLDivElement>(null);
  useEffect(() => {
    const chart = echarts.init(ref.current as HTMLDivElement, undefined, { renderer: 'svg' });
    chart.setOption(buildOption() as any);
    return () => chart.dispose();
  }, []);
  return <div ref={ref} style={{ position: 'absolute', left: 0, top: 0, width: 700, height: 855, background: '#fff' }} />;
}
